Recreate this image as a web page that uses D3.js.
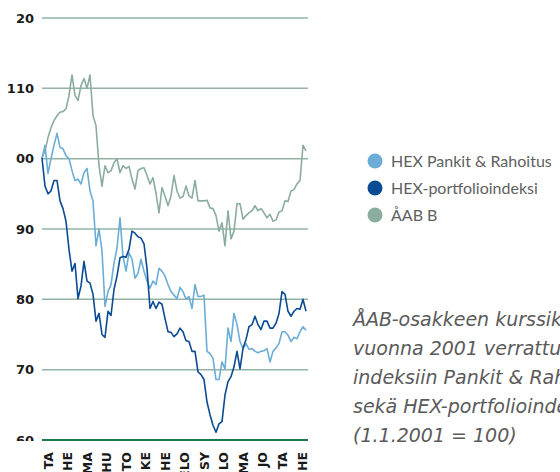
<!DOCTYPE html>
<html><head><meta charset="utf-8">
<script src="https://d3js.org/d3.v7.min.js"></script>
<style>
html,body{margin:0;padding:0;background:#fff;overflow:hidden;}
svg{display:block;}
</style></head>
<body>
<script>
// ---- data (index 1.1.2001 = 100), sampled points ----
const months = ["TA","HE","MA","HU","TO","KE","HE","ELO","SY","LO","MA","JO","TA","HE"];
const yTicks = [120,110,100,90,80,70,60];
const yTickLabels = ["20","110","00","90","80","70","60"];
const seriesNames = ["HEX Pankit & Rahoitus","HEX-portfolioindeksi","ÅAB B"];

const aabB = [100.1,101.1,103.0,104.4,105.4,106.1,106.6,106.7,107.1,109.0,
  111.9,109.0,108.3,110.4,111.4,110.0,111.9,106.1,104.7,99.0,
  96.1,99.0,98.0,98.3,99.4,100.0,98.0,99.0,98.6,98.9,
  97.1,95.7,98.3,98.6,98.7,97.6,96.4,97.3,95.1,92.3,
  95.9,94.7,93.3,94.7,97.6,95.4,94.4,94.6,96.1,94.7,
  94.4,96.9,94.0,94.0,94.0,94.1,93.0,92.9,91.9,89.7,
  90.9,87.6,92.6,88.6,89.7,93.6,93.6,91.4,91.9,92.3,
  92.6,93.3,92.6,92.9,92.3,91.6,92.1,91.1,91.3,92.4,
  92.6,94.0,93.9,95.4,95.6,96.4,96.9,101.9,101.1];

const hexPankit = [100.0,101.9,97.9,100.0,101.9,103.6,101.6,101.4,100.4,100.0,
  98.3,96.9,97.1,96.4,98.0,98.6,95.4,94.0,87.6,90.0,
  86.9,79.0,81.1,82.1,85.1,87.3,91.6,86.1,84.0,86.6,
  85.7,83.0,83.7,85.7,84.0,82.6,81.6,82.6,82.1,84.4,
  84.0,83.3,82.1,81.1,80.6,80.1,81.7,81.1,80.0,80.4,
  78.7,82.1,80.4,80.4,80.6,72.6,72.3,71.6,68.6,68.6,
  71.1,70.1,75.9,74.0,78.0,76.4,74.0,73.0,73.7,72.9,
  73.0,72.6,72.4,72.6,72.7,73.0,71.1,72.6,73.1,73.7,
  75.4,75.4,74.9,74.0,74.6,74.4,75.4,76.1,75.6];

const hexPortfolio = [100.1,96.1,95.0,95.4,96.9,96.9,94.0,92.9,91.1,87.1,
  84.0,85.1,80.1,81.9,85.4,82.6,82.3,80.7,76.9,78.0,
  75.0,74.6,78.3,77.7,81.4,83.3,85.9,86.1,86.0,87.1,
  89.7,89.4,88.9,88.7,87.9,84.4,78.7,79.7,78.7,79.6,
  79.3,77.3,75.4,75.3,74.7,75.1,75.9,75.4,74.1,74.0,
  72.6,72.6,69.7,69.3,68.6,65.4,63.6,62.1,61.1,62.3,
  62.6,66.4,68.3,69.0,70.4,72.6,70.1,73.0,74.3,76.1,
  76.4,77.6,76.4,75.7,76.9,76.9,75.9,75.9,76.6,78.0,
  81.1,80.7,78.3,77.6,78.3,78.7,78.6,80.0,78.3];

const captionLines = ["ÅAB-osakkeen kurssikehitys","vuonna 2001 verrattuna","indeksiin Pankit & Rahoitus","sekä HEX-portfolioindeksiin","(1.1.2001 = 100)"];

// ---- drawing ----
const W = 560, H = 472;
const colors = {pankit:"#6badd6", portfolio:"#0a4b93", aab:"#8aad9f"};
const svg = d3.select("body").append("svg").attr("width",W).attr("height",H);

const x = d3.scaleLinear().domain([0, aabB.length-1]).range([42, 306]);
const y = d3.scaleLinear().domain([60,120]).range([440, 18]);

// gridlines
svg.append("g").selectAll("line").data(yTicks.filter(d=>d>60)).join("line")
  .attr("x1",42).attr("x2",308).attr("y1",d=>y(d)).attr("y2",d=>y(d))
  .attr("stroke","#93b3a5").attr("stroke-width",1.5);

// y labels
svg.append("g").selectAll("text").data(yTicks).join("text")
  .attr("x",34).attr("y",d=>y(d)).attr("dy","0.36em")
  .attr("text-anchor","end")
  .attr("font-family","DejaVu Sans").attr("font-weight","bold").attr("font-size",13)
  .attr("fill","#1a1a1a")
  .text((d,i)=>yTickLabels[i]);

// lines
const line = d3.line().x((d,i)=>x(i)).y(d=>y(d));
[[aabB,colors.aab],[hexPankit,colors.pankit],[hexPortfolio,colors.portfolio]].forEach(([data,c])=>{
  svg.append("path").datum(data).attr("d",line).attr("fill","none")
    .attr("stroke",c).attr("stroke-width",1.6).attr("stroke-linejoin","round");
});

// mask below axis (labels area)
svg.append("rect").attr("x",0).attr("y",441).attr("width",40).attr("height",12).attr("fill","#fff");

// bottom axis line
svg.append("line").attr("x1",42).attr("x2",308).attr("y1",y(60)).attr("y2",y(60))
  .attr("stroke","#1f7a4d").attr("stroke-width",2);

// month labels
const xm = d3.scalePoint().domain(d3.range(months.length)).range([48, 302]);
svg.append("g").selectAll("text").data(months).join("text")
  .attr("transform",(d,i)=>`translate(${xm(i)+4.5},452) rotate(-90)`)
  .attr("text-anchor","end")
  .attr("font-family","DejaVu Sans").attr("font-weight","bold").attr("font-size",12.5)
  .attr("fill","#1a1a1a")
  .text(d=>d);

// legend
const legColors = [colors.pankit, colors.portfolio, colors.aab];
const leg = svg.append("g");
seriesNames.forEach((n,i)=>{
  const cy = 161 + i*27;
  leg.append("circle").attr("cx",375).attr("cy",cy).attr("r",7.5).attr("fill",legColors[i]);
  leg.append("text").attr("x",391).attr("y",cy).attr("dy","0.35em")
    .attr("font-family","Lato").attr("font-size",16).attr("fill","#606060")
    .text(n);
});

// caption
svg.append("g").selectAll("text").data(captionLines).join("text")
  .attr("x",353).attr("y",(d,i)=>326+i*29)
  .attr("font-family","DejaVu Sans").attr("font-style","italic").attr("font-weight",200)
  .attr("font-size",19).attr("fill","#5a5a5a")
  .text(d=>d);
</script>
</body></html>
